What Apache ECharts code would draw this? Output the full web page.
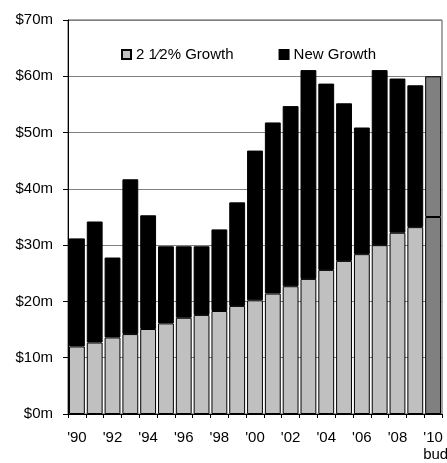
<!DOCTYPE html>
<html>
<head>
<meta charset="utf-8">
<script src="https://cdn.jsdelivr.net/npm/echarts@6/dist/echarts.min.js"></script>
<style>
  html, body { margin: 0; padding: 0; background: #fff; }
  #chart { width: 447px; height: 463px; }
</style>
</head>
<body>
<div id="chart"></div>
<script>
// Fiscal years; the final year is the budgeted one
const years = ["'90", "'91", "'92", "'93", "'94", "'95", "'96", "'97", "'98", "'99",
               "'00", "'01", "'02", "'03", "'04", "'05", "'06", "'07", "'08", "'09", "'10"];
const budgetNote = 'budget';

// Revenue, $ millions
const baseGrowth = [12.0, 12.7, 13.6, 14.2, 15.1, 16.1, 17.1, 17.6, 18.3, 19.2,
                    20.2, 21.4, 22.7, 24.0, 25.6, 27.2, 28.4, 30.0, 32.2, 33.2, 35.0];
const newGrowth  = [19.2, 21.5, 14.2, 27.5, 20.2, 13.7, 12.7, 12.2, 14.5, 18.4,
                    26.6, 30.4, 32.0, 37.1, 33.1, 28.0, 22.5, 31.1, 27.4, 25.2, 25.0];

const seriesNames = ['2 1\u20442% Growth', 'New Growth'];
const yTickLabels = ['$0m', '$10m', '$20m', '$30m', '$40m', '$50m', '$60m', '$70m'];

const FONT = '"Liberation Sans", Arial, sans-serif';
const budgetColor = '#808080';
const lastIdx = years.length - 1;

function withBudget(values) {
  return values.map((v, i) => i === lastIdx
    ? { value: v, itemStyle: { color: budgetColor } }
    : v);
}

const chart = echarts.init(document.getElementById('chart'), null, { renderer: 'canvas' });
chart.setOption({
  animation: false,
  backgroundColor: '#fff',
  textStyle: { fontFamily: FONT },
  grid: {
    left: 68, right: 5, top: 20, bottom: 49,
    containLabel: false,
    outerBoundsMode: 'none',
    show: true, borderColor: '#505050', borderWidth: 1, backgroundColor: 'transparent'
  },
  legend: {
    left: 116, top: 42,
    itemWidth: 9, itemHeight: 9, itemGap: 45,
    icon: 'rect',
    textStyle: { fontFamily: FONT, fontSize: 15, color: '#000' },
    data: seriesNames
  },
  xAxis: {
    type: 'category',
    data: years,
    axisLine: { lineStyle: { color: '#000', width: 1 } },
    axisTick: { show: true, interval: 0, length: 4, lineStyle: { color: '#000' } },
    axisLabel: {
      interval: 1,
      margin: 16,
      fontSize: 15,
      color: '#000',
      fontFamily: FONT,
      hideOverlap: false,
      formatter: (v, i) => i === lastIdx ? v + '\n{n|' + budgetNote + '}' : v,
      rich: { n: { fontSize: 15, fontFamily: FONT, color: '#000', padding: [2, 0, 0, 26] } }
    }
  },
  yAxis: {
    type: 'value',
    min: 0, max: 70, interval: 10,
    axisLine: { show: true, lineStyle: { color: '#000', width: 1 } },
    axisTick: { show: true, length: 5, lineStyle: { color: '#000' } },
    splitLine: { show: true, lineStyle: { color: '#808080', width: 1 } },
    axisLabel: {
      margin: 15,
      fontSize: 15,
      color: '#000',
      fontFamily: FONT,
      formatter: v => yTickLabels[Math.round(v / 10)]
    }
  },
  series: [
    {
      name: seriesNames[0],
      type: 'bar',
      stack: 'total',
      barCategoryGap: '11%',
      data: withBudget(baseGrowth),
      itemStyle: { color: '#c0c0c0', borderColor: '#000', borderWidth: 1 }
    },
    {
      name: seriesNames[1],
      type: 'bar',
      stack: 'total',
      barCategoryGap: '11%',
      data: withBudget(newGrowth),
      itemStyle: { color: '#000', borderColor: '#000', borderWidth: 1 }
    }
  ]
});
</script>
</body>
</html>
